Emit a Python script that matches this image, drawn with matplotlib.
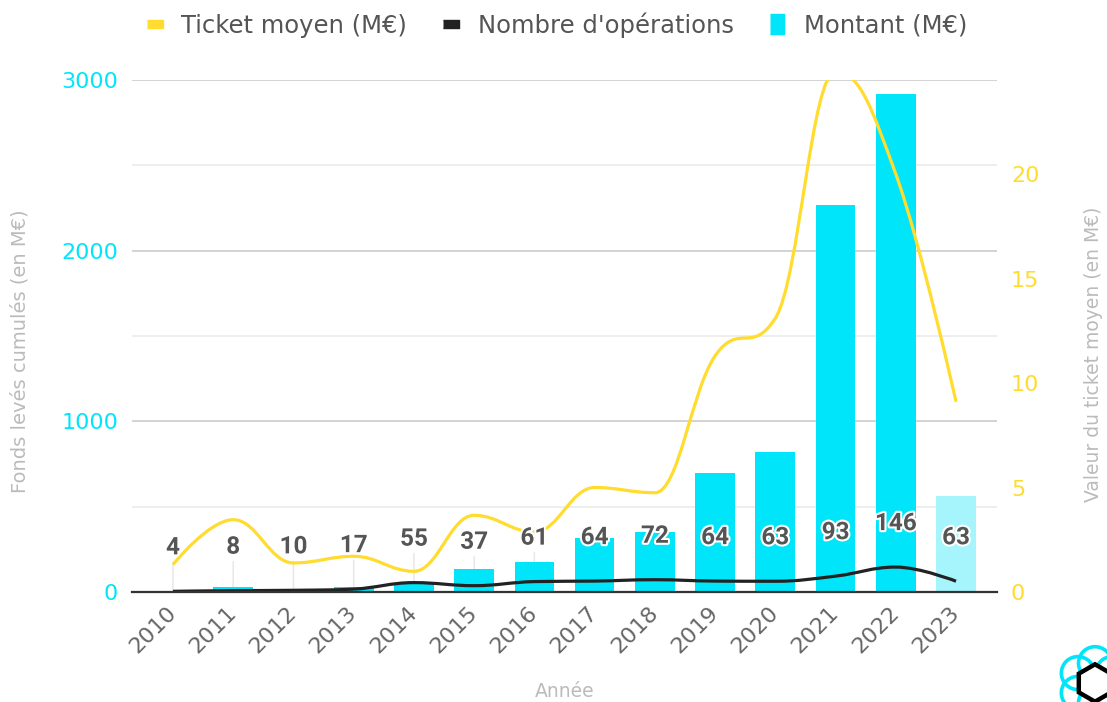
import math
import matplotlib
matplotlib.use("Agg")
import matplotlib.pyplot as plt
import matplotlib.patheffects as pe
from matplotlib.path import Path
from matplotlib.patches import PathPatch, Circle, RegularPolygon
from matplotlib.lines import Line2D
from matplotlib.ticker import MultipleLocator

years = [str(y) for y in range(2010, 2024)]
montant = [5, 28, 13, 29, 55, 135, 175, 316, 350, 700, 820, 2270, 2918, 561]
nb_operations = [4, 8, 10, 17, 55, 37, 61, 64, 72, 64, 63, 93, 146, 63]
ticket_moyen = [1.31, 3.46, 1.39, 1.71, 0.99, 3.67, 2.87, 5.0, 4.75, 11.3, 13.1, 24.9, 20.0, 9.1]

CYAN = "#00e5fa"
CYAN_LIGHT = "#a6f5fc"
YELLOW = "#ffdc2e"
GREY_TXT = "#666666"
TITLE_GREY = "#bbbbbb"


def spline_path(xs, ys, smoothing=1.5):
    # smooth curve through the points, same control-point rule as a highcharts spline
    n = len(xs)
    left = [None] * n
    right = [None] * n
    d = smoothing + 1
    for i in range(1, n - 1):
        x, y = xs[i], ys[i]
        lx = (smoothing * x + xs[i - 1]) / d
        ly = (smoothing * y + ys[i - 1]) / d
        rx = (smoothing * x + xs[i + 1]) / d
        ry = (smoothing * y + ys[i + 1]) / d
        corr = ((ry - ly) * (rx - x)) / (rx - lx) + y - ry
        ly += corr
        ry += corr
        if ly > ys[i - 1] and ly > y:
            ly = max(ys[i - 1], y)
            ry = 2 * y - ly
        elif ly < ys[i - 1] and ly < y:
            ly = min(ys[i - 1], y)
            ry = 2 * y - ly
        if ry > ys[i + 1] and ry > y:
            ry = max(ys[i + 1], y)
            ly = 2 * y - ry
        elif ry < ys[i + 1] and ry < y:
            ry = min(ys[i + 1], y)
            ly = 2 * y - ry
        left[i] = (lx, ly)
        right[i] = (rx, ry)
    verts = [(xs[0], ys[0])]
    codes = [Path.MOVETO]
    for i in range(1, n):
        c1 = right[i - 1] if right[i - 1] is not None else (xs[i - 1], ys[i - 1])
        c2 = left[i] if left[i] is not None else (xs[i], ys[i])
        verts += [c1, c2, (xs[i], ys[i])]
        codes += [Path.CURVE4] * 3
    return Path(verts, codes)


fig = plt.figure(figsize=(11.07, 7.02), dpi=100)
ax = fig.add_axes([132 / 1107, 1 - 592 / 702, 865 / 1107, 512 / 702])
ax2 = ax.twinx()

x = list(range(len(years)))
colors = [CYAN] * (len(years) - 1) + [CYAN_LIGHT]
ax.bar(x, montant, width=0.66, color=colors, zorder=2)

ax.add_patch(PathPatch(spline_path(x, nb_operations), facecolor="none",
                       edgecolor="#222222", lw=2.3, zorder=3))
ax2.add_patch(PathPatch(spline_path(x, ticket_moyen), facecolor="none",
                        edgecolor=YELLOW, lw=2.3, zorder=3))

ax.set_xlim(-0.68, 13.68)
ax.set_ylim(0, 3000)
ax2.set_ylim(0, 24.5)

ax.yaxis.set_major_locator(MultipleLocator(1000))
ax.yaxis.set_minor_locator(MultipleLocator(500))
ax.grid(axis="y", which="major", color="#cccccc", lw=1.2)
ax.grid(axis="y", which="minor", color="#ebebeb", lw=1.2)
ax.set_axisbelow(True)
ax2.yaxis.set_major_locator(MultipleLocator(5))

for a in (ax, ax2):
    for s in ("top", "left", "right", "bottom"):
        a.spines[s].set_visible(False)
ax.spines["bottom"].set_visible(True)
ax.spines["bottom"].set_color("#333333")
ax.spines["bottom"].set_linewidth(1.6)
ax.spines["bottom"].set_zorder(4)

ax.tick_params(axis="y", which="both", length=0, pad=10, labelsize=16, labelcolor=CYAN)
ax2.tick_params(axis="y", which="both", length=0, pad=10, labelsize=16, labelcolor=YELLOW)
ax.set_xticks(x)
ax.set_xticklabels(years, rotation=45, ha="right", va="center",
                   rotation_mode="anchor", fontsize=16, color=GREY_TXT)
ax.tick_params(axis="x", length=0, pad=13)

ax.set_ylabel("Fonds levés cumulés (en M€)", color=TITLE_GREY, fontsize=14)
ax2.set_ylabel("Valeur du ticket moyen (en M€)", color=TITLE_GREY, fontsize=13.5)
ax.set_xlabel("Année", color=TITLE_GREY, fontsize=13.5, labelpad=18)
ax.yaxis.set_label_coords(-0.118, 0.47)
ax2.yaxis.set_label_coords(1.101, 0.465)

# leader lines under the bars, labels on top of everything
for i, n in enumerate(nb_operations):
    ax.annotate("", xy=(i, n), xytext=(0, 21), textcoords="offset points",
                arrowprops=dict(arrowstyle="-", color="#e6e6e6", lw=1,
                                shrinkA=0, shrinkB=0), zorder=1.5)
    ax2.annotate(str(n), xy=(i, n), xycoords=ax.transData, xytext=(0, 23),
                 textcoords="offset points", ha="center", va="bottom",
                 fontsize=17.5, fontweight="bold", family="Roboto", color="#555555",
                 path_effects=[pe.withStroke(linewidth=3, foreground="white")],
                 zorder=6)

handles = [
    Line2D([], [], ls="none", marker=[(-1, -0.45), (1, -0.45), (1, 0.45), (-1, 0.45)],
           markersize=12, color=YELLOW),
    Line2D([], [], ls="none", marker=[(-1, -0.45), (1, -0.45), (1, 0.45), (-1, 0.45)],
           markersize=12, color="#222222"),
    Line2D([], [], ls="none", marker=[(-0.72, -1), (0.72, -1), (0.72, 1), (-0.72, 1)],
           markersize=15, color=CYAN),
]
labels = ["Ticket moyen (M€)", "Nombre d'opérations", "Montant (M€)"]
leg = fig.legend(handles, labels, loc="center", bbox_to_anchor=(555 / 1107, 1 - 25 / 702),
                 ncol=3, frameon=False, fontsize=17.5, handlelength=1.0,
                 handletextpad=0.6, columnspacing=1.3, numpoints=1)
for t in leg.get_texts():
    t.set_color("#555555")

# small logo bottom right
lax = fig.add_axes([1040 / 1107, -36 / 702, 110 / 1107, 110 / 702])
lax.set_xlim(-1, 1)
lax.set_ylim(-1, 1)
lax.set_aspect("equal")
lax.axis("off")
for k in range(6):
    ang = math.pi / 6 + k * math.pi / 3
    lax.add_patch(Circle((0.36 * math.cos(ang), 0.36 * math.sin(ang)), 0.3,
                         fill=False, ec=CYAN, lw=2.6))
lax.add_patch(RegularPolygon((0, 0), 6, radius=0.34, fc="white", ec="black", lw=3.2))

fig.savefig("out.png", dpi=100)
